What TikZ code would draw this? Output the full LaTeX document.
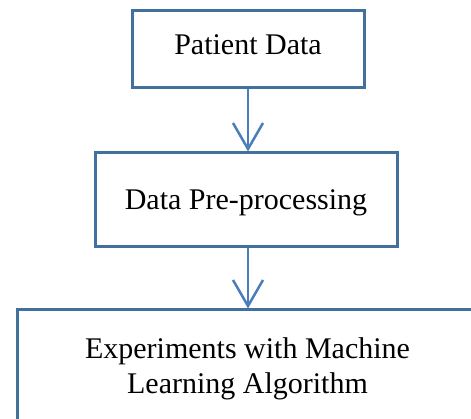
\documentclass[tikz,border=0pt]{standalone}
\usepackage{fontspec}
\setmainfont{Liberation Serif}
\usetikzlibrary{arrows.meta}
\definecolor{boxblue}{HTML}{41719C}
\definecolor{arrowblue}{HTML}{4A7EBB}
\begin{document}
\begin{tikzpicture}[x=1pt,y=-1pt,
  flowbox/.style={draw=boxblue, line width=3pt, rectangle, inner sep=0pt,
    font=\fontsize{30}{35}\selectfont, align=center},
  flowarrow/.style={draw=arrowblue, line width=2.5pt,
    -{Straight Barb[length=26pt,width=30pt,line width=2.5pt]}}]
\useasboundingbox (0,0) rectangle (471,419);
\clip (0,0) rectangle (471,419);
\node[flowbox, minimum width=232pt, minimum height=77pt,
  text height=20pt, text depth=9pt] (patient) at (248,49.5) {Patient Data};
\node[flowbox, minimum width=302pt, minimum height=94pt,
  text height=21pt, text depth=1pt] (prep) at (246,200) {Data Pre-processing};
\node[flowbox, minimum width=461pt, minimum height=117pt] (exp) at (247.5,368.5)
  {Experiments with Machine\\Learning Algorithm};
\draw[flowarrow] (patient.south -| 248,0) -- (prep.north -| 248,0);
\draw[flowarrow] (prep.south -| 248,0) -- (exp.north -| 248,0);
\end{tikzpicture}
\end{document}
